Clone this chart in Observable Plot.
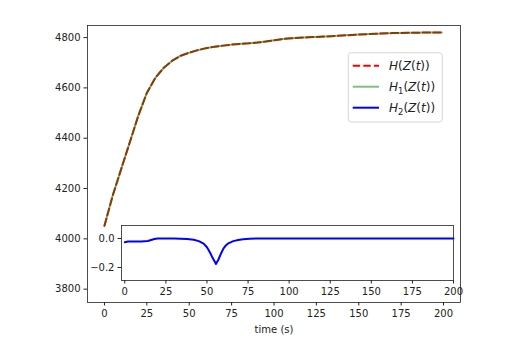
<!DOCTYPE html>
<html>
<head>
<meta charset="utf-8">
<script src="https://cdn.jsdelivr.net/npm/d3@7"></script>
<script src="https://cdn.jsdelivr.net/npm/@observablehq/plot@0.6"></script>
<style>
  html, body { margin: 0; padding: 0; background: white; }
  #wrap { position: relative; width: 510px; height: 343px; overflow: hidden; background: white; }
  #wrap > svg, #wrap > figure { position: absolute; margin: 0; }
</style>
</head>
<body>
<div id="wrap"></div>
<script>
// ---- data ----
const timeMain = [0, 5, 10, 15, 20, 25, 30, 35, 40, 45, 50, 55, 60, 65, 70, 75, 80, 85, 90, 95, 100, 105, 110, 115, 120, 130, 140, 150, 160, 170, 180, 190, 199];
const H  = [4052, 4175, 4280, 4385, 4490, 4580, 4640, 4680, 4708, 4728, 4740, 4750, 4758, 4764, 4768, 4772, 4775, 4777, 4780, 4784, 4789, 4794, 4797, 4799, 4801, 4804, 4808, 4812, 4815, 4818, 4819, 4820, 4820];
const H1 = [4052, 4175, 4280, 4385, 4490, 4580, 4640, 4680, 4708, 4728, 4740, 4750, 4758, 4764, 4768, 4772, 4775, 4777, 4780, 4784, 4789, 4794, 4797, 4799, 4801, 4804, 4808, 4812, 4815, 4818, 4819, 4820, 4820];
const timeInset = [0, 2, 6, 10, 14, 16, 18, 20, 30, 38, 42, 45, 48, 50, 52, 53.5, 55.5, 57, 58.5, 60, 61.5, 63, 66, 69, 72, 76, 80, 100, 150, 200];
const H2 = [-0.026, -0.02, -0.02, -0.02, -0.017, -0.01, -0.003, 0, 0, -0.004, -0.009, -0.018, -0.035, -0.06, -0.1, -0.135, -0.176, -0.145, -0.105, -0.07, -0.048, -0.033, -0.018, -0.01, -0.005, -0.002, 0, 0, 0, 0];
const xTicksMain = [0, 25, 50, 75, 100, 125, 150, 175, 200];
const yTicksMain = [3800, 4000, 4200, 4400, 4600, 4800];
const xTicksInset = [0, 25, 50, 75, 100, 125, 150, 175, 200];
const yTicksInset = [0.0, -0.2];
const legendLabels = [
  ["H", null], ["H", "1"], ["H", "2"]
];
const legendColors = ["red", "green", "blue"];

const mainData = timeMain.map((t, i) => ({t, H: H[i], H1: H1[i]}));
const insetData = timeInset.map((t, i) => ({t, H2: H2[i]}));

const wrap = document.getElementById("wrap");
const font = "DejaVu Sans, sans-serif";

// ---- main plot ----
const main = Plot.plot({
  width: 510, height: 343,
  marginLeft: 87, marginRight: 50, marginTop: 25, marginBottom: 41,
  x: {domain: [-10, 210]},
  y: {domain: [3747, 4848]},
  style: {fontFamily: font, fontSize: "10px", color: "#222", background: "white"},
  marks: [
    Plot.line(mainData, {x: "t", y: "H", stroke: "#ff0000", strokeWidth: 2, strokeDasharray: "7.4,3.2"}),
    Plot.line(mainData, {x: "t", y: "H1", stroke: "#008000", strokeOpacity: 0.5, strokeWidth: 2}),
    Plot.frame({stroke: "#222", strokeWidth: 0.8}),
    Plot.axisX({ticks: xTicksMain, tickSize: 3.5, tickPadding: 3.5, label: null, tickFormat: d3.format("d")}),
    Plot.axisY({ticks: yTicksMain, tickSize: 3.5, tickPadding: 3.5, label: null, tickFormat: d3.format("d")}),
    Plot.text(["time (s)"], {x: () => 100, frameAnchor: "bottom", dy: 30, text: d => d, fontSize: 10, fill: "#222"})
  ]
});
main.style.left = "0px"; main.style.top = "0px";
wrap.appendChild(main);

// ---- inset ----
const inset = Plot.plot({
  width: 372, height: 82,
  marginLeft: 30, marginRight: 10, marginTop: 5, marginBottom: 22,
  x: {domain: [-2, 200]},
  y: {domain: [-0.29, 0.09]},
  style: {fontFamily: font, fontSize: "10px", color: "#222", background: "transparent"},
  marks: [
    Plot.frame({fill: "white"}),
    Plot.line(insetData, {x: "t", y: "H2", stroke: "#0000ff", strokeWidth: 2}),
    Plot.frame({stroke: "#222", strokeWidth: 0.8}),
    Plot.axisX({ticks: xTicksInset, tickSize: 3.5, tickPadding: 3.5, label: null, tickFormat: d3.format("d")}),
    Plot.axisY({ticks: yTicksInset, tickSize: 3.5, tickPadding: 3.5, label: null, tickFormat: d3.format(".1f")})
  ]
});
inset.style.left = "91px"; inset.style.top = "220px";
wrap.appendChild(inset);

// ---- legend ----
const leg = d3.create("svg").attr("width", 100).attr("height", 76)
  .style("left", "346px").style("top", "50px").style("position", "absolute");
leg.append("rect").attr("x", 2.3).attr("y", 2.7).attr("width", 94).attr("height", 69.3)
  .attr("rx", 3).attr("fill", "white").attr("fill-opacity", 0.8).attr("stroke", "#cccccc").attr("stroke-width", 0.8);
legendLabels.forEach(([base, sub], i) => {
  const y = 15.7 + i * 21;
  leg.append("line").attr("x1", 6.7).attr("x2", 33).attr("y1", y).attr("y2", y)
    .attr("stroke", legendColors[i]).attr("stroke-width", 2)
    .attr("stroke-opacity", i === 1 ? 0.5 : 1)
    .attr("stroke-dasharray", i === 0 ? "7.4,3.2" : null);
  const t = leg.append("text").attr("x", 43).attr("y", y + 4.3)
    .attr("font-family", font).attr("font-size", 12).attr("fill", "#222");
  t.append("tspan").attr("font-style", "italic").text(base);
  if (sub) t.append("tspan").attr("font-size", 8.4).attr("dy", 2.5).text(sub);
  t.append("tspan").attr("dy", sub ? -2.5 : 0).text("(");
  t.append("tspan").attr("font-style", "italic").text("Z");
  t.append("tspan").text("(");
  t.append("tspan").attr("font-style", "italic").text("t");
  t.append("tspan").text("))");
});
wrap.appendChild(leg.node());
</script>
</body>
</html>
